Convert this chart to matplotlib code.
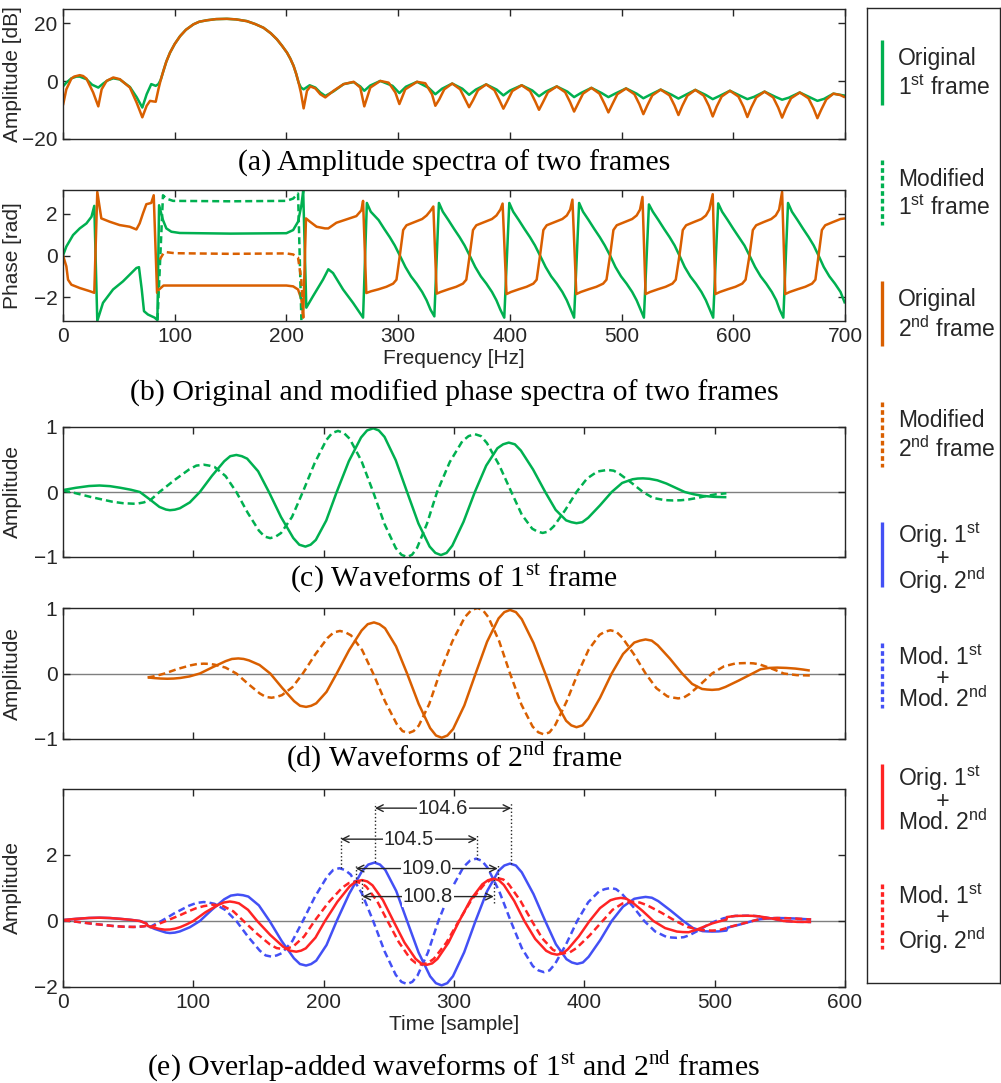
import numpy as np
import matplotlib.pyplot as plt

plt.rcParams['font.family'] = ['Liberation Sans', 'DejaVu Sans']
plt.rcParams['font.size'] = 15

GREEN = '#00B050'
ORANGE = '#D95F00'
BLUE = '#4350F5'
RED = '#FF2424'
AXC = '#262626'
DASH = (0, (2.8, 1.6))

# ---------------- (a) amplitude spectra [Hz, dB] ----------------
lobe_amp = [(87.5, 0.5), (89.9, 3.6), (92.5, 6.8), (95.8, 9.9), (100, 12.9), (104.8, 15.6),
            (110, 17.8), (116.8, 19.7), (122, 20.6), (128.8, 21.1), (137, 21.5), (146.7, 21.6),
            (155, 21.4), (164.6, 20.8), (172, 19.8), (179.5, 18.5), (186, 16.6), (191.5, 14.5),
            (196, 12.3), (200.5, 9.9), (203.5, 7.8), (206.4, 5.3), (208.7, 2.6), (210.9, -0.5)]

amp_orig1_left = [(0, -1.8), (3, -0.5), (7.5, 1.0), (12, 1.6), (15, 1.6), (21, 0.7), (26, -1.2),
                  (31.6, -2.2), (36, -0.8), (40, 0.3), (45, 1.0), (50.9, 0.6), (59.9, -2.0),
                  (65.9, -5.5), (71, -9.1), (74.9, -4.5), (79, -1.0), (83, -1.6), (85.4, -1.0)]
amp_orig1_right = [(213, -2.2), (215.4, -2.8), (220.8, -1.4), (225.9, -2.2), (230.3, -3.9),
                   (234.8, -5.1), (242.2, -3.5), (251.2, -1.0), (260.2, -0.3), (266.1, -1.8),
                   (269.7, -3.3), (275, -1.5), (284, 0.1), (295, -1.6), (301.1, -4.1), (307, -1.9),
                   (316.9, -0.2), (327.3, -2.3), (333.3, -4.5), (339.3, -2.6), (348.4, -0.8),
                   (357.5, -2.6), (363.5, -4.7), (369.5, -2.9), (378.8, -1.1), (388.2, -2.9),
                   (394.2, -4.9), (400.2, -3.2), (410.6, -1.4), (420.1, -3.2), (426.1, -5.2),
                   (432.1, -3.6), (442, -1.8), (451.5, -3.6), (457.5, -5.5), (463.5, -4.1),
                   (473, -2.3), (482.2, -4.1), (488.2, -5.5), (494.2, -4.3), (504, -2.5),
                   (513.5, -4.3), (519.5, -5.9), (525.5, -4.7), (535, -2.9), (544.9, -4.7),
                   (550.9, -6.0), (556.9, -4.8), (566, -3.0), (575.6, -4.8), (581.6, -6.2),
                   (587.6, -5.1), (597, -3.3), (606.6, -5.1), (612.6, -6.2), (618.6, -5.4),
                   (628, -3.6), (637.7, -5.4), (643.7, -6.4), (649.7, -5.7), (659.5, -3.9),
                   (669.3, -5.7), (675.3, -6.8), (681.3, -6.1), (689.6, -4.3), (700, -5.0)]

amp_orig2_left = [(0, -8.3), (3, -2.8), (7.5, 0.9), (10, 1.6), (15, 2.1), (18, 1.8), (21, 0.9),
                  (27, -3.9), (31.6, -8.7), (34.6, -2.8), (39, 0.1), (45, 1.3), (50.9, 0.7),
                  (59.9, -2.2), (65.9, -7.4), (71, -12.5), (74.9, -8.5), (77.9, -6.8),
                  (80.9, -7.0), (83, -7.1), (85.4, -2.8)]
amp_orig2_right = [(213, -4.0), (215.4, -9.4), (218.4, -3.3), (221.4, -1.8), (225.9, -2.5),
                   (230.3, -4.5), (234.8, -5.6), (242.2, -3.3), (251.2, -1.0), (260.2, -0.2),
                   (266.1, -2.2), (269.7, -8.7), (275.1, -2.2), (284, 0.1), (291.5, -0.5),
                   (297.5, -3.9), (301.1, -7.9), (306.4, -2.8), (316.9, -0.2), (324.3, -0.7),
                   (330.3, -4.5), (333.3, -8.5), (336.8, -6.3), (341.3, -2.8), (348.4, -0.8),
                   (355.5, -2.8), (360, -6.3), (363.5, -9.0), (367, -6.6), (371.5, -3.1),
                   (378.8, -1.1), (386.2, -3.1), (390.7, -6.6), (394.2, -9.5), (397.7, -6.9),
                   (402.2, -3.4), (410.6, -1.4), (418.1, -3.4), (422.6, -6.9), (426.1, -9.9),
                   (429.6, -7.3), (434.1, -3.8), (442, -1.8), (449.5, -3.8), (454, -7.3),
                   (457.5, -10.5), (461, -7.8), (465.5, -4.3), (473, -2.3), (480.2, -4.3),
                   (484.7, -7.8), (488.2, -10.8), (491.7, -8.0), (496.2, -4.5), (504, -2.5),
                   (511.5, -4.5), (516, -8.0), (519.5, -11.4), (523, -8.4), (527.5, -4.9),
                   (535, -2.9), (542.9, -4.9), (547.4, -8.4), (550.9, -11.7), (554.4, -8.5),
                   (558.9, -5.0), (566, -3.0), (573.6, -5.0), (578.1, -8.5), (581.6, -12.2),
                   (585.1, -8.8), (589.6, -5.3), (597, -3.3), (604.6, -5.3), (609.1, -8.8),
                   (612.6, -12.4), (616.1, -9.1), (620.6, -5.6), (628, -3.6), (635.7, -5.6),
                   (640.2, -9.1), (643.7, -12.6), (647.2, -9.4), (651.7, -5.9), (659.5, -3.9),
                   (667.3, -5.9), (671.8, -9.4), (675.3, -12.8), (678.8, -9.8), (683.3, -6.3),
                   (689.6, -4.3), (696, -4.8), (700, -5.6)]

# ---------------- (b) phase spectra [Hz, rad] ----------------
phase_orig1 = [(0, 0), (3, 0.43), (9, 0.98), (15, 1.3), (21, 1.54), (25.5, 1.86), (28, 2.38),
               (30.7, -3.14), (35.8, -2.27), (44.8, -1.63), (53.7, -1.24), (59.7, -0.92),
               (65.7, -0.6), (68, -0.56), (70.5, -1.63), (72.5, -2.67), (76, -2.83), (82, -2.98),
               (84.5, -3.1), (86, 2.41), (89.5, 1.70), (92.5, 1.30), (97, 1.14), (104.5, 1.08),
               (150, 1.05), (200, 1.07), (206, 1.22), (210.4, 1.62), (213.4, 2.41), (215, 3.1),
               (217.8, -2.5), (223.8, -1.95), (232.7, -1.16), (237.5, -0.66), (241.7, -0.84),
               (250.7, -1.63), (259.6, -2.27), (268.6, -2.98),
               (272, 2.52), (275.5, 2.1), (282.5, 1.7), (287.5, 1.28), (292.5, 0.88), (297, 0.48),
               (301.5, 0), (306.5, -0.55), (311.5, -1.0), (316.5, -1.35), (321.5, -1.75),
               (325.5, -2.15), (329, -2.6), (332.4, -2.92),
               (336.5, 2.52), (340, 2.1), (345, 1.7), (350, 1.28), (355, 0.88), (359.5, 0.48),
               (364, 0), (369, -0.55), (374, -1.0), (379, -1.35), (384, -1.75), (388, -2.15),
               (391.5, -2.6), (395, -2.98),
               (399.5, 2.52), (403, 2.1), (408, 1.7), (413, 1.28), (418, 0.88), (422.5, 0.48),
               (427, 0), (432, -0.55), (437, -1.0), (442, -1.35), (447, -1.75), (451, -2.15),
               (454.5, -2.6), (457.5, -2.98),
               (462, 2.52), (465.5, 2.1), (470.5, 1.7), (475.5, 1.28), (480.5, 0.88), (485, 0.48),
               (489.7, 0), (494.5, -0.55), (499.5, -1.0), (504.5, -1.35), (509.5, -1.75),
               (513.5, -2.15), (517, -2.6), (520, -2.98),
               (524.5, 2.45), (528, 2.1), (533, 1.7), (538, 1.28), (543, 0.88), (547.5, 0.48),
               (551.8, 0), (556.5, -0.55), (561.5, -1.0), (566.5, -1.35), (571.5, -1.75),
               (575.5, -2.15), (579, -2.6), (582, -2.98),
               (586.5, 2.5), (590, 2.1), (595, 1.7), (600, 1.28), (605, 0.88), (610, 0.48),
               (614.5, 0), (619.5, -0.55), (624.5, -1.0), (629.5, -1.35), (634.5, -1.75),
               (638.5, -2.15), (641.5, -2.6), (644.8, -2.98),
               (649, 2.52), (652.5, 2.1), (657.5, 1.7), (662.5, 1.28), (667.5, 0.88), (672, 0.48),
               (676.3, 0), (681, -0.55), (686, -1.0), (691, -1.35), (696, -1.75), (700, -2.3)]

phase_orig2 = [(0, 0), (3, -0.52), (4.5, -1.16), (7.5, -1.4), (15, -1.56), (23.9, -1.71),
               (28, -1.79), (30.7, 3.05), (34.3, 1.78), (41.8, 1.62), (50.7, 1.46), (59.7, 1.38),
               (65.7, 1.25), (68.6, 1.54), (71.6, 2.02), (74.6, 2.46), (79, 2.52), (81.2, 2.89),
               (84.2, -1.79), (86, -1.63), (90, -1.44), (150, -1.44), (200, -1.44), (206, -1.48),
               (210.4, -1.63), (213.4, -2.1), (215, -2.98), (217.5, 1.78), (221.1, 1.62),
               (227, 1.38), (234.5, 1.3), (237.5, 1.3), (244.7, 1.57), (253.7, 1.73),
               (262.6, 1.89), (267.1, 2.17), (268.6, 2.62),
               (271.5, -1.8), (275.5, -1.72), (282.5, -1.62), (289.5, -1.5), (295.5, -1.35),
               (298.5, -1.16), (301.5, 0), (304.5, 1.22), (307.5, 1.45), (314.5, 1.6),
               (321.5, 1.75), (325.5, 1.92), (329, 2.15), (331.5, 2.35),
               (334.5, -1.83), (338, -1.75), (345, -1.62), (352, -1.5), (358, -1.35),
               (361, -1.16), (364, 0), (367, 1.22), (370, 1.45), (377, 1.6), (384, 1.75),
               (388, 1.92), (391.5, 2.2), (393.5, 2.49),
               (397, -1.85), (401, -1.75), (408, -1.62), (415, -1.5), (421, -1.35), (424, -1.16),
               (427, 0), (430, 1.22), (433, 1.45), (440, 1.6), (447, 1.75), (451, 1.92),
               (454, 2.2), (456, 2.68),
               (459.5, -1.85), (463.5, -1.75), (470.5, -1.62), (477.5, -1.5), (483.5, -1.35),
               (486.5, -1.16), (489.7, 0), (492.7, 1.22), (495.7, 1.45), (502.5, 1.6),
               (509.5, 1.75), (513.5, 1.92), (516.5, 2.2), (518.7, 2.81),
               (521.5, -1.85), (525.5, -1.75), (532.5, -1.62), (539.5, -1.5), (545.5, -1.35),
               (548.5, -1.16), (551.8, 0), (554.8, 1.22), (557.8, 1.45), (564.5, 1.6),
               (571.5, 1.75), (575.5, 1.92), (578.5, 2.2), (581.6, 2.94),
               (584, -1.85), (588, -1.75), (595, -1.62), (602, -1.5), (608, -1.35), (611, -1.16),
               (614.5, 0), (617.5, 1.22), (620.5, 1.45), (627, 1.6), (634, 1.75), (638, 1.92),
               (641, 2.2), (643.7, 3.05),
               (646.5, -1.85), (650.5, -1.75), (657.5, -1.62), (664.5, -1.5), (670.5, -1.35),
               (673.5, -1.16), (676.3, 0), (679.3, 1.22), (682.3, 1.45), (689, 1.6),
               (696, 1.75), (700, 1.78)]

phase_mod1 = [(84.6, -3.1), (89.5, 2.89), (92.5, 2.73), (98.5, 2.62), (150, 2.60), (200, 2.62),
              (206, 2.73), (210.4, 2.97), (213.4, -3.1)]
phase_mod2 = [(86.5, -0.2), (90, 0.11), (92.5, 0.16), (100, 0.11), (150, 0.08), (200, 0.10),
              (206, 0.05), (210.4, -0.1), (213.4, -1.2), (215, -3.0)]

# ---------------- (c) waveforms of 1st frame [sample, amplitude] ----------------
wave_orig1 = [(0, 0.03), (10, 0.065), (20, 0.092), (28, 0.10), (36, 0.09), (44, 0.065),
              (52, 0.035), (59, 0), (67, -0.12), (74, -0.23), (79, -0.27), (82, -0.28),
              (85.8, -0.272), (89.7, -0.25), (97.3, -0.16), (105, 0), (114.3, 0.249),
              (123.7, 0.473), (128.3, 0.551), (133, 0.57), (137.2, 0.551), (141.3, 0.513),
              (149.7, 0.319), (158, 0), (167.3, -0.386), (176.7, -0.708), (181.3, -0.811),
              (186, -0.84), (190, -0.811), (194, -0.737), (202, -0.438), (210, 0), (219.3, 0.473),
              (228.7, 0.839), (233.3, 0.947), (238, 0.98), (242.3, 0.947), (246.7, 0.848),
              (255.3, 0.489), (264, 0), (272.7, -0.484), (281.3, -0.839), (285.7, -0.937),
              (290, -0.97), (294.3, -0.937), (298.7, -0.825), (307.3, -0.459), (316, 0),
              (324.7, 0.406), (333.3, 0.673), (337.7, 0.734), (342, 0.76), (346.7, 0.734),
              (351.3, 0.638), (360.7, 0.345), (370, 0), (378, -0.275), (386, -0.436),
              (390, -0.464), (394, -0.48), (398.5, -0.464), (403, -0.396), (412, -0.206),
              (421, 0), (429, 0.139), (437, 0.196), (441, 0.207), (445, 0.21), (450, 0.203),
              (456, 0.18), (463, 0.13), (470, 0.065), (477, 0), (484, -0.035), (491, -0.06),
              (500, -0.075), (509, -0.08)]
wave_mod1 = [(0, 0.02), (6, 0.0), (14, -0.04), (22, -0.08), (30, -0.115), (38, -0.15),
             (46, -0.172), (54, -0.18), (58, -0.175), (62, -0.16), (67.3, -0.12), (74, 0),
             (85.3, 0.18), (96.7, 0.346), (102.3, 0.406), (108, 0.42), (112.2, 0.406),
             (116.3, 0.385), (124.7, 0.246), (133, 0), (141.7, -0.319), (150.3, -0.594),
             (154.7, -0.686), (159, -0.71), (163.2, -0.686), (167.3, -0.631), (175.7, -0.384),
             (184, 0), (193, 0.441), (202, 0.798), (206.5, 0.908), (211, 0.94), (215.5, 0.908),
             (220, 0.818), (229, 0.478), (238, 0), (246.7, -0.493), (255.3, -0.862),
             (259.7, -0.966), (264, -1.0), (267.8, -0.966), (271.7, -0.858), (279.3, -0.486),
             (287, 0), (296.7, 0.459), (306.3, 0.779), (311.2, 0.86), (316, 0.89), (320.7, 0.86),
             (325.3, 0.752), (334.7, 0.4125), (344, 0), (352, -0.348), (360, -0.564),
             (364, -0.609), (368, -0.63), (372.3, -0.609), (376.7, -0.525), (385.3, -0.279),
             (394, 0), (402, 0.206), (410, 0.315), (414, 0.328), (418, 0.34), (422.5, 0.328),
             (427, 0.279), (436, 0.144), (445, 0), (452.7, -0.091), (460.3, -0.12),
             (464, -0.127), (468, -0.13), (474, -0.127), (480, -0.115), (487, -0.09),
             (494, -0.06), (501, -0.035), (509, -0.02)]

# ---------------- (d) waveforms of 2nd frame ----------------
wave_orig2 = [(65, -0.06), (70, -0.07), (75, -0.077), (80, -0.08), (85, -0.077), (90, -0.068),
              (97, -0.045), (105, 0), (114.8, 0.096), (124.7, 0.188), (129.6, 0.222),
              (134.5, 0.23), (138.6, 0.222), (142.7, 0.2), (150.8, 0.13), (159, 0),
              (168.2, -0.22), (177.3, -0.422), (181.9, -0.493), (186.5, -0.51), (190.4, -0.493),
              (194.3, -0.455), (202.2, -0.28), (210, 0), (219.5, 0.356), (229.1, 0.656),
              (233.8, 0.753), (238.6, 0.78), (242.8, 0.753), (247.1, 0.69), (255.5, 0.415),
              (264, 0), (272.9, -0.465), (281.7, -0.834), (286.2, -0.947), (290.6, -0.98),
              (294.9, -0.947), (299.3, -0.848), (307.9, -0.489), (316.6, 0), (325.4, 0.486),
              (334.2, 0.841), (338.6, 0.937), (343, 0.97), (347.5, 0.937), (352, 0.829),
              (361, 0.466), (370, 0), (378, -0.429), (386, -0.721), (390, -0.792), (394, -0.82),
              (398.5, -0.792), (403, -0.688), (412, -0.373), (421, 0), (429.7, 0.298),
              (438.3, 0.472), (442.7, 0.502), (447, 0.52), (451.7, 0.502), (456.3, 0.431),
              (465.7, 0.226), (475, 0), (482.7, -0.159), (490.3, -0.236), (494.2, -0.245),
              (498, -0.25), (503.2, -0.242), (508.3, -0.205), (518.7, -0.105), (529, 0),
              (535.3, 0.065), (541.7, 0.085), (548, 0.09), (555, 0.085), (562, 0.075),
              (568, 0.06), (573, 0.045)]
wave_mod2 = [(65, -0.06), (68, -0.05), (72, -0.033), (78, 0), (88, 0.07), (98, 0.125),
             (103, 0.145), (108, 0.15), (112.2, 0.147), (116.3, 0.135), (124.7, 0.09), (133, 0),
             (142, -0.158), (151, -0.305), (155.5, -0.357), (160, -0.37), (164, -0.357),
             (168, -0.33), (176, -0.21), (184, 0), (193.5, 0.29), (203, 0.543), (207.75, 0.628),
             (212.5, 0.65), (216.75, 0.628), (221, 0.582), (229.5, 0.358), (238, 0),
             (247, -0.4225), (256, -0.769), (260.5, -0.879), (265, -0.91), (269, -0.879),
             (273, -0.795), (281, -0.466), (289, 0), (298.7, 0.489), (308.3, 0.86),
             (313.2, 0.966), (318, 1.0), (322.2, 0.966), (326.3, 0.861), (334.7, 0.491),
             (343, 0), (351.7, -0.474), (360.3, -0.81), (364.7, -0.898), (369, -0.93),
             (373.3, -0.898), (377.7, -0.786), (386.3, -0.431), (395, 0), (403.3, 0.364),
             (411.7, 0.591), (415.8, 0.638), (420, 0.66), (424.5, 0.638), (429, 0.551),
             (438, 0.295), (447, 0), (455.3, -0.225), (463.7, -0.349), (467.8, -0.367),
             (472, -0.38), (476.3, -0.367), (480.7, -0.313), (489.3, -0.163), (498, 0),
             (507, 0.108), (516, 0.154), (520.5, 0.157), (525, 0.16), (529.7, 0.155),
             (534.3, 0.14), (543.7, 0.075), (553, 0), (563, -0.025), (573, -0.03)]

# ---------------- (e) overlap-added waveforms ----------------
ola_o1_o2 = [(0, 0.03), (10, 0.065), (20, 0.092), (28, 0.10), (36, 0.09), (44, 0.065),
             (52, 0.035), (59, 0), (64, -0.07), (65, -0.14), (70, -0.235), (75, -0.30),
             (79, -0.35), (82, -0.365), (85.8, -0.352), (89.7, -0.315), (97.3, -0.19), (105, 0),
             (114.3, 0.343), (123.7, 0.658), (128.8, 0.77), (134, 0.80), (138.1, 0.782),
             (142.2, 0.74), (150.3, 0.473), (158.5, 0), (167.8, -0.608), (177.2, -1.13),
             (181.8, -1.304), (186.5, -1.35), (190.4, -1.304), (194.3, -1.2), (202.2, -0.728),
             (210, 0), (219.7, 0.833), (229.3, 1.503), (234.2, 1.71), (239, 1.77),
             (243.2, 1.71), (247.3, 1.546), (255.7, 0.908), (264, 0), (272.8, -0.953),
             (281.7, -1.676), (286.1, -1.884), (290.5, -1.95), (294.8, -1.884), (299.2, -1.674),
             (307.8, -0.949), (316.5, 0), (325.3, 0.896), (334.2, 1.522), (338.6, 1.681),
             (343, 1.74), (347.5, 1.681), (352, 1.475), (361, 0.815), (370, 0), (378.2, -0.705),
             (386.3, -1.157), (390.4, -1.256), (394.5, -1.30), (398.9, -1.256), (403.3, -1.085),
             (412.2, -0.579), (421, 0), (429.7, 0.436), (438.3, 0.673), (442.7, 0.705),
             (447, 0.73), (451.8, 0.705), (456.7, 0.603), (466.3, 0.314), (476, 0),
             (483.3, -0.211), (490.7, -0.307), (494.3, -0.315), (498, -0.32), (503, -0.315),
             (509, -0.29), (510, -0.20), (514, -0.16), (520, -0.10), (529, 0), (535, 0.055),
             (542, 0.08), (548, 0.09), (555, 0.085), (562, 0.075), (568, 0.06), (574, 0.045)]
ola_m1_m2 = [(0, 0.02), (6, 0.0), (14, -0.04), (22, -0.08), (30, -0.115), (38, -0.15),
             (46, -0.172), (54, -0.18), (58, -0.175), (62, -0.16), (64, -0.145), (65, -0.20),
             (67.3, -0.17), (71, -0.09), (75.5, 0), (85.3, 0.23), (96.7, 0.464), (102.3, 0.546),
             (108, 0.575), (112.2, 0.555), (116.3, 0.52), (124.7, 0.33), (133, 0),
             (142, -0.477), (151, -0.899), (155.5, -1.043), (160, -1.08), (164, -1.043),
             (168, -0.973), (176, -0.605), (184, 0), (193.3, 0.735), (202.7, 1.348),
             (207.3, 1.546), (212, 1.60), (216.3, 1.546), (220.7, 1.408), (229.3, 0.839),
             (238, 0), (246.7, -0.916), (255.3, -1.632), (259.7, -1.845), (264, -1.91),
             (268, -1.845), (272, -1.653), (280, -0.953), (288, 0), (297.7, 0.948),
             (307.3, 1.638), (312.2, 1.826), (317, 1.89), (321.4, 1.826), (325.8, 1.612),
             (334.7, 0.903), (343.5, 0), (352, -0.818), (360.5, -1.367), (364.8, -1.497),
             (369, -1.55), (373.3, -1.497), (377.5, -1.303), (386, -0.706), (394.5, 0),
             (403, 0.569), (411.5, 0.906), (415.8, 0.966), (420, 1.0), (424.3, 0.966),
             (428.7, 0.831), (437.3, 0.439), (446, 0), (454.3, -0.316), (462.7, -0.477),
             (466.8, -0.5), (471, -0.51), (476.3, -0.49), (480.7, -0.43), (489.3, -0.25),
             (494, -0.13), (498, -0.05), (501, 0), (507, 0.084), (509, 0.10), (509.5, 0.12),
             (516, 0.154), (520.5, 0.157), (525, 0.16), (529.7, 0.155), (534.3, 0.14),
             (543.7, 0.075), (553, 0), (563, -0.025), (574, -0.03)]
ola_o1_m2 = [(0, 0.03), (10, 0.065), (20, 0.092), (28, 0.10), (36, 0.09), (44, 0.065),
             (52, 0.035), (59, 0), (64, -0.075), (65, -0.15), (70, -0.205), (74, -0.24),
             (78, -0.262), (82, -0.258), (86, -0.232), (90, -0.185), (95, -0.10), (100, 0),
             (109.3, 0.265), (118.7, 0.48), (123.3, 0.56), (128, 0.59), (131.5, 0.57),
             (135, 0.535), (142, 0.338), (149, 0), (159, -0.4225), (169, -0.781), (174, -0.898),
             (179, -0.93), (182.7, -0.898), (186.3, -0.828), (193.7, -0.504), (201, 0),
             (210.5, 0.581), (220, 1.052), (224.8, 1.198), (229.5, 1.24), (233.5, 1.198),
             (237.5, 1.08), (245.5, 0.631), (253.5, 0), (262, -0.654), (270.5, -1.145),
             (274.75, -1.285), (279, -1.33), (283.2, -1.285), (287.3, -1.148), (295.7, -0.659),
             (304, 0), (312.8, 0.646), (321.7, 1.112), (326.1, 1.236), (330.5, 1.28),
             (334.4, 1.236), (338.3, 1.09), (346.2, 0.6075), (354, 0), (362.3, -0.5425),
             (370.7, -0.902), (374.8, -0.985), (379, -1.02), (383.2, -0.985), (387.3, -0.86),
             (395.7, -0.47), (404, 0), (412, 0.39), (420, 0.629), (424, 0.676), (428, 0.70),
             (432.2, 0.676), (436.3, 0.58), (444.7, 0.305), (453, 0), (462, -0.215),
             (471, -0.32), (475.5, -0.335), (480, -0.34), (486, -0.265), (492, -0.17),
             (498, -0.074), (503, -0.017), (509, 0.04), (509.5, 0.12), (516, 0.154),
             (520.5, 0.157), (525, 0.16), (529.7, 0.155), (534.3, 0.14), (543.7, 0.075),
             (553, 0), (563, -0.025), (574, -0.03)]
ola_m1_o2 = [(0, 0.02), (6, 0.0), (14, -0.04), (22, -0.08), (30, -0.115), (38, -0.15),
             (46, -0.172), (54, -0.18), (58, -0.175), (62, -0.16), (64, -0.145), (65, -0.205),
             (67.3, -0.185), (72, -0.11), (76, -0.046), (79, 0), (85.3, 0.103), (90, 0.18),
             (96.7, 0.30), (102.3, 0.39), (108, 0.45), (115, 0.495), (118.9, 0.478),
             (122.8, 0.454), (130.7, 0.292), (138.5, 0), (148.7, -0.38), (158.8, -0.711),
             (163.9, -0.821), (169, -0.85), (173, -0.821), (177, -0.76), (185, -0.4675),
             (193, 0), (203.5, 0.5525), (214.1, 1.006), (219.3, 1.15), (224.6, 1.19),
             (228.7, 1.15), (232.7, 1.04), (240.9, 0.611), (249, 0), (257.7, -0.644),
             (266.3, -1.134), (270.7, -1.275), (275, -1.32), (279.8, -1.275), (284.6, -1.142),
             (294.1, -0.658), (303.7, 0), (313.6, 0.652), (323.6, 1.127), (328.5, 1.256),
             (333.5, 1.30), (337.9, 1.256), (342.2, 1.103), (351, 0.61), (359.7, 0),
             (367.8, -0.53), (375.9, -0.872), (380, -0.947), (384, -0.98), (389, -0.947),
             (394, -0.82), (404, -0.44), (414, 0), (421.7, 0.34), (429.3, 0.531), (433.2, 0.56),
             (437, 0.58), (442.5, 0.56), (448, 0.481), (459, 0.254), (470, 0), (479.3, -0.181),
             (488.7, -0.272), (493.3, -0.285), (498, -0.29), (503.2, -0.28), (508.3, -0.225),
             (509.5, -0.20), (518.7, -0.105), (529, 0), (535.3, 0.065), (541.7, 0.085),
             (548, 0.09), (555, 0.085), (562, 0.075), (568, 0.06), (574, 0.045)]

# peak-to-peak distances marked in (e)
dist_labels = ['104.6', '104.5', '109.0', '100.8']
dist_start = [239.4, 213.2, 224.6, 229.7]
dist_value = [104.6, 104.5, 109.0, 100.8]
dist_level = [3.42, 2.48, 1.59, 0.74]
dist_left_span = [(1.78, 3.59), (1.60, 2.62), (1.19, 1.70), (0.56, 1.26)]
dist_right_span = [(1.74, 3.59), (1.89, 2.62), (1.30, 1.70), (0.56, 1.28)]

# legend
leg_colors = [GREEN, GREEN, ORANGE, ORANGE, BLUE, BLUE, RED, RED]
leg_dashed = [False, True, False, True, False, True, False, True]
ST = r'$^{\mathregular{st}}$'
ND = r'$^{\mathregular{nd}}$'
leg_texts = [['Original', '1' + ST + ' frame'], ['Modified', '1' + ST + ' frame'],
             ['Original', '2' + ND + ' frame'], ['Modified', '2' + ND + ' frame'],
             ['Orig. 1' + ST, 'Orig. 2' + ND], ['Mod. 1' + ST, 'Mod. 2' + ND],
             ['Orig. 1' + ST, 'Mod. 2' + ND], ['Mod. 1' + ST, 'Orig. 2' + ND]]

captions = ['(a) Amplitude spectra of two frames',
            '(b) Original and modified phase spectra of two frames',
            '(c) Waveforms of 1' + ST + ' frame',
            '(d) Waveforms of 2' + ND + ' frame',
            '(e) Overlap-added waveforms of 1' + ST + ' and 2' + ND + ' frames']


def draw(ax, pts, color, dashed=False, lw=1.8):
    x, y = np.array(pts).T
    ax.plot(x, y, color=color, lw=lw, ls=DASH if dashed else '-', solid_capstyle='butt',
            dash_capstyle='butt', solid_joinstyle='round')


def style(ax, xlim, ylim, xticks, yticks, xlabels=True):
    ax.set_xlim(xlim)
    ax.set_ylim(ylim)
    ax.set_xticks(xticks)
    ax.set_yticks(yticks)
    ax.tick_params(direction='in', top=True, right=True, length=5, width=1,
                   color=AXC, labelcolor=AXC, labelsize=15, pad=4)
    if not xlabels:
        ax.set_xticklabels([])
    for s in ax.spines.values():
        s.set_color(AXC)
        s.set_linewidth(1)


W, H = 1001, 1083
fig = plt.figure(figsize=(W / 100, H / 100), dpi=100)


def px_axes(left, top, right, bottom):
    return fig.add_axes([left / W, 1 - bottom / H, (right - left) / W, (bottom - top) / H])


ax_a = px_axes(63, 9, 845, 139)
ax_b = px_axes(63, 190, 845, 321)
ax_c = px_axes(63, 427, 845, 557)
ax_d = px_axes(63, 608, 845, 739)
ax_e = px_axes(63, 789, 845, 987)

# (a)
draw(ax_a, amp_orig1_left + lobe_amp + amp_orig1_right, GREEN)
draw(ax_a, amp_orig2_left + lobe_amp + amp_orig2_right, ORANGE)
style(ax_a, (0, 700), (-20, 25), range(0, 701, 100), [-20, 0, 20], xlabels=False)
ax_a.set_ylabel('Amplitude [dB]', fontsize=15, color=AXC)

# (b)
draw(ax_b, phase_orig1, GREEN)
draw(ax_b, phase_orig2, ORANGE)
draw(ax_b, phase_mod1, GREEN, dashed=True)
draw(ax_b, phase_mod2, ORANGE, dashed=True)
style(ax_b, (0, 700), (-np.pi, np.pi), range(0, 701, 100), [-2, 0, 2])
ax_b.set_ylabel('Phase [rad]', fontsize=15, color=AXC)
ax_b.set_xlabel('Frequency [Hz]', fontsize=15, color=AXC)

# (c)
ax_c.axhline(0, color='#7f7f7f', lw=1, zorder=0)
draw(ax_c, wave_orig1, GREEN)
draw(ax_c, wave_mod1, GREEN, dashed=True)
style(ax_c, (0, 600), (-1, 1), range(0, 601, 100), [-1, 0, 1], xlabels=False)
ax_c.set_ylabel('Amplitude', fontsize=15, color=AXC)

# (d)
ax_d.axhline(0, color='#7f7f7f', lw=1, zorder=0)
draw(ax_d, wave_orig2, ORANGE)
draw(ax_d, wave_mod2, ORANGE, dashed=True)
style(ax_d, (0, 600), (-1, 1), range(0, 601, 100), [-1, 0, 1], xlabels=False)
ax_d.set_ylabel('Amplitude', fontsize=15, color=AXC)

# (e)
ax_e.axhline(0, color='#7f7f7f', lw=1, zorder=0)
draw(ax_e, ola_o1_o2, BLUE)
draw(ax_e, ola_m1_m2, BLUE, dashed=True)
draw(ax_e, ola_o1_m2, RED)
draw(ax_e, ola_m1_o2, RED, dashed=True)
style(ax_e, (0, 600), (-2, 4), range(0, 601, 100), [-2, 0, 2])
ax_e.set_ylabel('Amplitude', fontsize=15, color=AXC)
ax_e.set_xlabel('Time [sample]', fontsize=15, color=AXC)

for lab, x0, d, lev, ls, rs in zip(dist_labels, dist_start, dist_value, dist_level,
                                   dist_left_span, dist_right_span):
    ax_e.plot([x0, x0], ls, ls=':', color=AXC, lw=1)
    ax_e.plot([x0 + d, x0 + d], rs, ls=':', color=AXC, lw=1)
    ax_e.annotate('', xy=(x0 + d, lev), xytext=(x0, lev),
                  arrowprops=dict(arrowstyle='<->', color=AXC, lw=1, shrinkA=0, shrinkB=0,
                                  mutation_scale=12))
    ax_e.text(x0 + d / 2, lev, lab, ha='center', va='center', fontsize=14.5, color=AXC,
              bbox=dict(facecolor='white', edgecolor='none', pad=0.5))

for ax in (ax_a, ax_b, ax_c, ax_d, ax_e):
    ax.yaxis.set_label_coords(-0.052, 0.5)
ax_b.xaxis.set_label_coords(0.5, -0.21)
ax_e.xaxis.set_label_coords(0.5, -0.14)

# captions
cap_y = [163, 393, 578, 757, 1066]
for txt, y in zip(captions, cap_y):
    fig.text(454 / W, 1 - y / H, txt, ha='center', va='center', fontsize=21.5,
             family='Liberation Serif', color='black')

# legend panel
ax_l = px_axes(867, 8, 1000, 983)
ax_l.set_xlim(867, 1000)
ax_l.set_ylim(983, 8)
ax_l.set_xticks([])
ax_l.set_yticks([])
for s in ax_l.spines.values():
    s.set_color(AXC)
    s.set_linewidth(1)
for i, (c, dsh, lines) in enumerate(zip(leg_colors, leg_dashed, leg_texts)):
    top = 39.5 + 120.7 * i
    ax_l.plot([882, 882], [top, top + 65], color=c, lw=2.4,
              ls=(0, (1.4, 0.9)) if dsh else '-', solid_capstyle='butt', dash_capstyle='butt')
    if i < 4:
        ax_l.text(898, top + 19, lines[0], ha='left', va='center', fontsize=16.5, color=AXC)
        ax_l.text(898, top + 48, lines[1], ha='left', va='center', fontsize=16.5, color=AXC)
    else:
        block = lines[0] + '\n      +\n' + lines[1]
        ax_l.text(898, top + 36, block, ha='left', va='center', fontsize=16.5, color=AXC,
                  linespacing=0.82)

fig.savefig('out.png', dpi=100)
